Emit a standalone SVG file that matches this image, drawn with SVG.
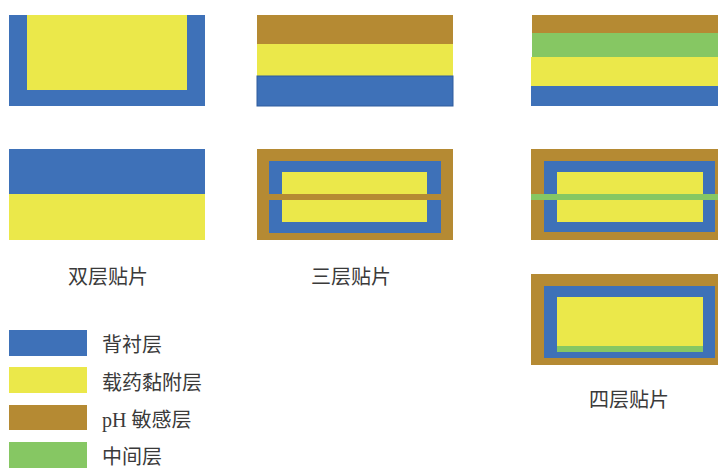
<svg xmlns="http://www.w3.org/2000/svg" width="718" height="468" viewBox="0 0 718 468">
<style>
.b{fill:#3e71b8}
.y{fill:#ebe84a}
.o{fill:#b58a33}
.g{fill:#86c763}
.t{font-family:"Liberation Serif","Noto Sans CJK SC",serif;font-size:20px;fill:#3a3a3a}
</style>
<rect width="718" height="468" fill="#fff"/>
<g id="bilayer-a">
<rect class="b" x="9" y="15" width="196" height="91"/>
<rect class="y" x="27" y="15" width="160" height="75"/>
</g>
<g id="bilayer-b">
<rect class="b" x="9" y="149" width="196" height="45"/>
<rect class="y" x="9" y="194" width="196" height="46"/>
</g>
<g id="trilayer-a">
<rect class="o" x="257" y="15" width="196" height="29"/>
<rect class="y" x="257" y="44" width="196" height="32"/>
<rect class="b" x="257" y="76" width="196" height="30" stroke="#2f5d9e" stroke-width="1"/>
</g>
<g id="trilayer-b">
<rect class="o" x="257" y="149" width="196" height="91"/>
<rect class="b" x="269" y="161" width="172" height="72"/>
<rect class="y" x="282" y="172" width="145" height="50"/>
<rect class="o" x="257" y="194" width="196" height="6"/>
</g>
<g id="quad-a">
<rect class="o" x="532" y="15" width="186" height="18"/>
<rect class="g" x="532" y="33" width="186" height="24"/>
<rect class="y" x="531" y="57" width="187" height="29"/>
<rect class="b" x="531" y="86" width="187" height="20"/>
</g>
<g id="quad-b">
<rect class="o" x="531" y="149" width="187" height="91"/>
<rect class="b" x="544" y="161" width="171" height="71"/>
<rect class="y" x="557" y="172" width="146" height="50"/>
<rect class="g" x="531" y="194" width="187" height="6"/>
</g>
<g id="quad-c">
<rect class="o" x="531" y="274" width="187" height="91"/>
<rect class="b" x="544" y="286" width="171" height="72"/>
<rect class="y" x="557" y="297" width="146" height="49"/>
<rect class="g" x="557" y="346" width="146" height="6"/>
</g>
<g id="labels">
<text class="t" x="108" y="284" text-anchor="middle">双层贴片</text>
<text class="t" x="351" y="284" text-anchor="middle">三层贴片</text>
<text class="t" x="629" y="407" text-anchor="middle">四层贴片</text>
</g>
<g id="legend">
<rect class="b" x="9" y="330" width="78" height="26"/>
<rect class="y" x="9" y="367" width="78" height="26"/>
<rect class="o" x="9" y="405" width="78" height="25"/>
<rect class="g" x="9" y="442" width="78" height="26"/>
<text class="t" x="102" y="352">背衬层</text>
<text class="t" x="102" y="390">载药黏附层</text>
<text class="t" x="102" y="427">pH 敏感层</text>
<text class="t" x="102" y="464">中间层</text>
</g>
<g id="connectors"></g>
</svg>
